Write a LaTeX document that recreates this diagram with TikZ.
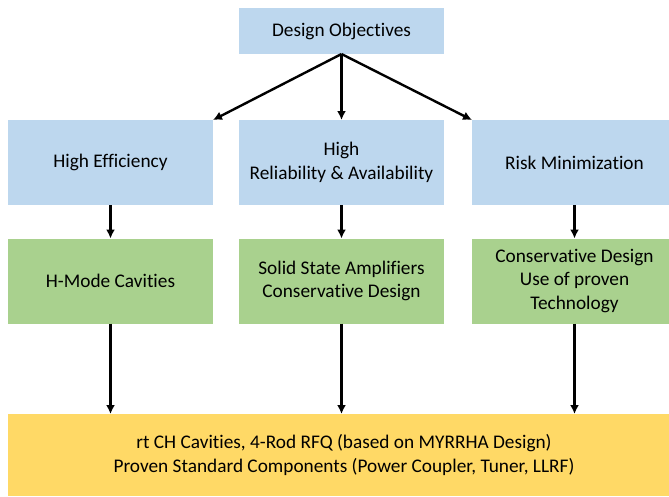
\documentclass[tikz,border=0pt]{standalone}
\usepackage{fontspec}
\setmainfont{Carlito}[Ligatures=NoCommon]
\usetikzlibrary{arrows.meta}

\begin{document}
\begin{tikzpicture}[x=1pt, y=-1pt,
      box/.style={minimum width=205pt, minimum height=85pt, inner sep=0pt,
        outer sep=0pt, align=center, font=\fontsize{19.3}{23.8}\selectfont},
      goal/.style={box, fill={rgb,255:red,189;green,215;blue,238}},
      means/.style={box, fill={rgb,255:red,169;green,209;blue,142}},
      result/.style={box, fill={rgb,255:red,255;green,217;blue,102}, minimum width=672pt, minimum height=82pt},
      link/.style={line width=2.4pt, -{Latex[length=9pt, width=9pt]}}]
      \useasboundingbox (0,0) rectangle (669,496);
      \node [goal, minimum height=46pt] (obj) at (341.5,31) {Design Objectives};
      % second row
      \node [goal] (eff) at (110.5,162.5) {High Efficiency};
      \node [goal] (rel) at (341.5,162.5) {High\\Reliability \& Availability};
      \node [goal] (risk) at (574.5,162.5) {Risk Minimization};
      % third row
      \node [means] (hmode) at (110.5,281) {H-Mode Cavities};
      \node [means] (ssa) at (341.5,281) {Solid State Amplifiers\\Conservative Design};
      \node [means] (cons) at (574.5,281) {Conservative Design\\Use of proven\\Technology};
      \node [result] (rt) at (344,455) {rt CH Cavities, 4-Rod RFQ (based on MYRRHA Design)\\Proven Standard Components (Power Coupler, Tuner, LLRF)};
      \draw [link] (obj.south) -- (eff.north east);
      \draw [link] (obj.south) -- (rel.north);
      \draw [link] (obj.south) -- (risk.north west);
      \foreach \a/\b in {eff/hmode, rel/ssa, risk/cons}
        \draw [link] (\a.south) -- (\b.north);
      \draw [link] (hmode.south) -- (hmode.south |- rt.north);
      \draw [link] (ssa.south) -- (ssa.south |- rt.north);
      \draw [link] (cons.south) -- (cons.south |- rt.north);
\end{tikzpicture}
\end{document}
